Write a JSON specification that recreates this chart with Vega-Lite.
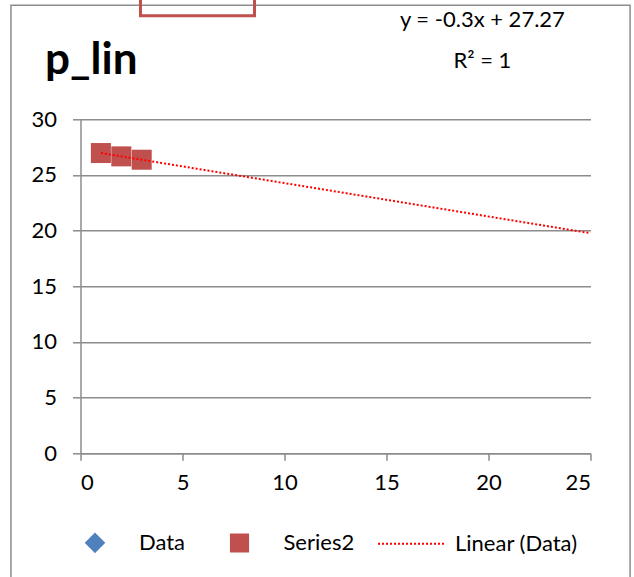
{
  "$schema": "https://vega.github.io/schema/vega-lite/v6.json",
  "width": 510,
  "height": 334,
  "autosize": {"type": "none"},
  "padding": {"left": 80.5, "top": 119.3, "right": 43.5, "bottom": 123.7},
  "background": "white",
  "config": {
    "view": {"stroke": null},
    "font": "Lato",
    "axisX": {"domainColor": "#8c8c8c", "domainWidth": 1.5, "tickColor": "#8c8c8c", "tickWidth": 1.5, "tickSize": 7, "labelFontSize": 22, "labelFont": "Lato", "labelColor": "#000000", "labelPadding": 12, "grid": false, "title": null},
    "axisY": {"domainColor": "#8c8c8c", "domainWidth": 1.5, "tickColor": "#8c8c8c", "tickWidth": 1.5, "tickSize": 8, "labelFontSize": 22, "labelFont": "Lato", "labelColor": "#000000", "labelPadding": 16, "grid": true, "gridColor": "#8c8c8c", "gridWidth": 1.5, "title": null},
    "legend": {
      "orient": "none",
      "legendX": -19.5,
      "legendY": 389.5,
      "direction": "horizontal",
      "title": null,
      "symbolSize": 4356,
      "symbolStrokeWidth": 2,
      "symbolOpacity": 1,
      "labelFontSize": 22,
      "labelFont": "Lato",
      "labelColor": "#000000",
      "labelOffset": 10,
      "columnPadding": 19.5
    }
  },
  "title": {"text": "p_lin", "anchor": "start", "frame": "group", "fontSize": 44, "fontWeight": "bold", "font": "Lato", "color": "#000000", "dx": -35.5, "dy": 133, "baseline": "alphabetic", "offset": 10},
  "datasets": {
    "data": [
      {"x": 1, "y": 26.97, "series": "Data"},
      {"x": 2, "y": 26.67, "series": "Data"},
      {"x": 3, "y": 26.37, "series": "Data"}
    ],
    "series2": [
      {"x": 1, "y": 26.97, "series": "Series2"},
      {"x": 2, "y": 26.67, "series": "Series2"},
      {"x": 3, "y": 26.37, "series": "Series2"}
    ],
    "trend": [
      {"x": 1, "y": 26.97, "series": "Linear (Data)"},
      {"x": 25, "y": 19.77, "series": "Linear (Data)"}
    ]
  },
  "layer": [
    {
      "data": {"values": [{"item": "chart border"}]},
      "mark": {"type": "rect", "filled": false, "stroke": "#8c8c8c", "strokeWidth": 1.5, "clip": false},
      "encoding": {
        "x": {"datum": -3.41, "type": "quantitative"},
        "x2": {"datum": 26.94},
        "y": {"datum": 40.25, "type": "quantitative"},
        "y2": {"datum": -12}
      }
    },
    {
      "data": {"values": [{"item": "box"}]},
      "mark": {"type": "rect", "filled": false, "stroke": "#c0504d", "strokeWidth": 3, "clip": false},
      "encoding": {
        "x": {"datum": 2.94, "type": "quantitative"},
        "x2": {"datum": 8.53},
        "y": {"datum": 39.3, "type": "quantitative"},
        "y2": {"datum": 41}
      }
    },
    {
      "data": {"name": "data"},
      "mark": {"type": "point", "filled": true, "opacity": 1, "size": 4400},
      "encoding": {
        "x": {"field": "x", "type": "quantitative", "scale": {"domain": [0, 25], "nice": false, "zero": false}, "axis": {"values": [0, 5, 10, 15, 20, 25], "title": null}},
        "y": {"field": "y", "type": "quantitative", "scale": {"domain": [0, 30], "nice": false, "zero": false}, "axis": {"values": [0, 5, 10, 15, 20, 25, 30], "title": null}},
        "color": {
          "field": "series",
          "type": "nominal",
          "scale": {"domain": ["Data", "Series2", "Linear (Data)"], "range": ["#4f81bd", "#c0504d", "#ff0000"]}
        },
        "shape": {
          "field": "series",
          "type": "nominal",
          "scale": {"domain": ["Data", "Series2", "Linear (Data)"], "range": ["M0,-0.27L0.27,0L0,0.27L-0.27,0Z", "M-0.26,-0.26H0.26V0.26H-0.26Z", "stroke"]}
        }
      }
    },
    {
      "data": {"name": "series2"},
      "mark": {"type": "point", "filled": true, "opacity": 1, "size": 5917},
      "encoding": {
        "x": {"field": "x", "type": "quantitative"},
        "y": {"field": "y", "type": "quantitative"},
        "color": {"field": "series", "type": "nominal"},
        "shape": {"field": "series", "type": "nominal"}
      }
    },
    {
      "data": {"name": "trend"},
      "mark": {"type": "line", "strokeWidth": 2},
      "encoding": {
        "x": {"field": "x", "type": "quantitative"},
        "y": {"field": "y", "type": "quantitative"},
        "color": {"field": "series", "type": "nominal"},
        "strokeDash": {
          "field": "series",
          "type": "nominal",
          "scale": {"domain": ["Data", "Series2", "Linear (Data)"], "range": [[1, 0], [1, 0], [2, 2]]}
        }
      }
    },
    {
      "data": {"values": [{"label": "y = -0.3x + 27.27"}]},
      "mark": {"type": "text", "fontSize": 22, "font": "Lato", "color": "#000000", "align": "center", "baseline": "alphabetic", "clip": false},
      "encoding": {
        "x": {"datum": 19.7, "type": "quantitative"},
        "y": {"datum": 38.33, "type": "quantitative"},
        "text": {"field": "label"}
      }
    },
    {
      "data": {"values": [{"label": "R² = 1"}]},
      "mark": {"type": "text", "fontSize": 22, "font": "Lato", "color": "#000000", "align": "center", "baseline": "alphabetic", "clip": false},
      "encoding": {
        "x": {"datum": 19.7, "type": "quantitative"},
        "y": {"datum": 34.6, "type": "quantitative"},
        "text": {"field": "label"}
      }
    }
  ]
}
